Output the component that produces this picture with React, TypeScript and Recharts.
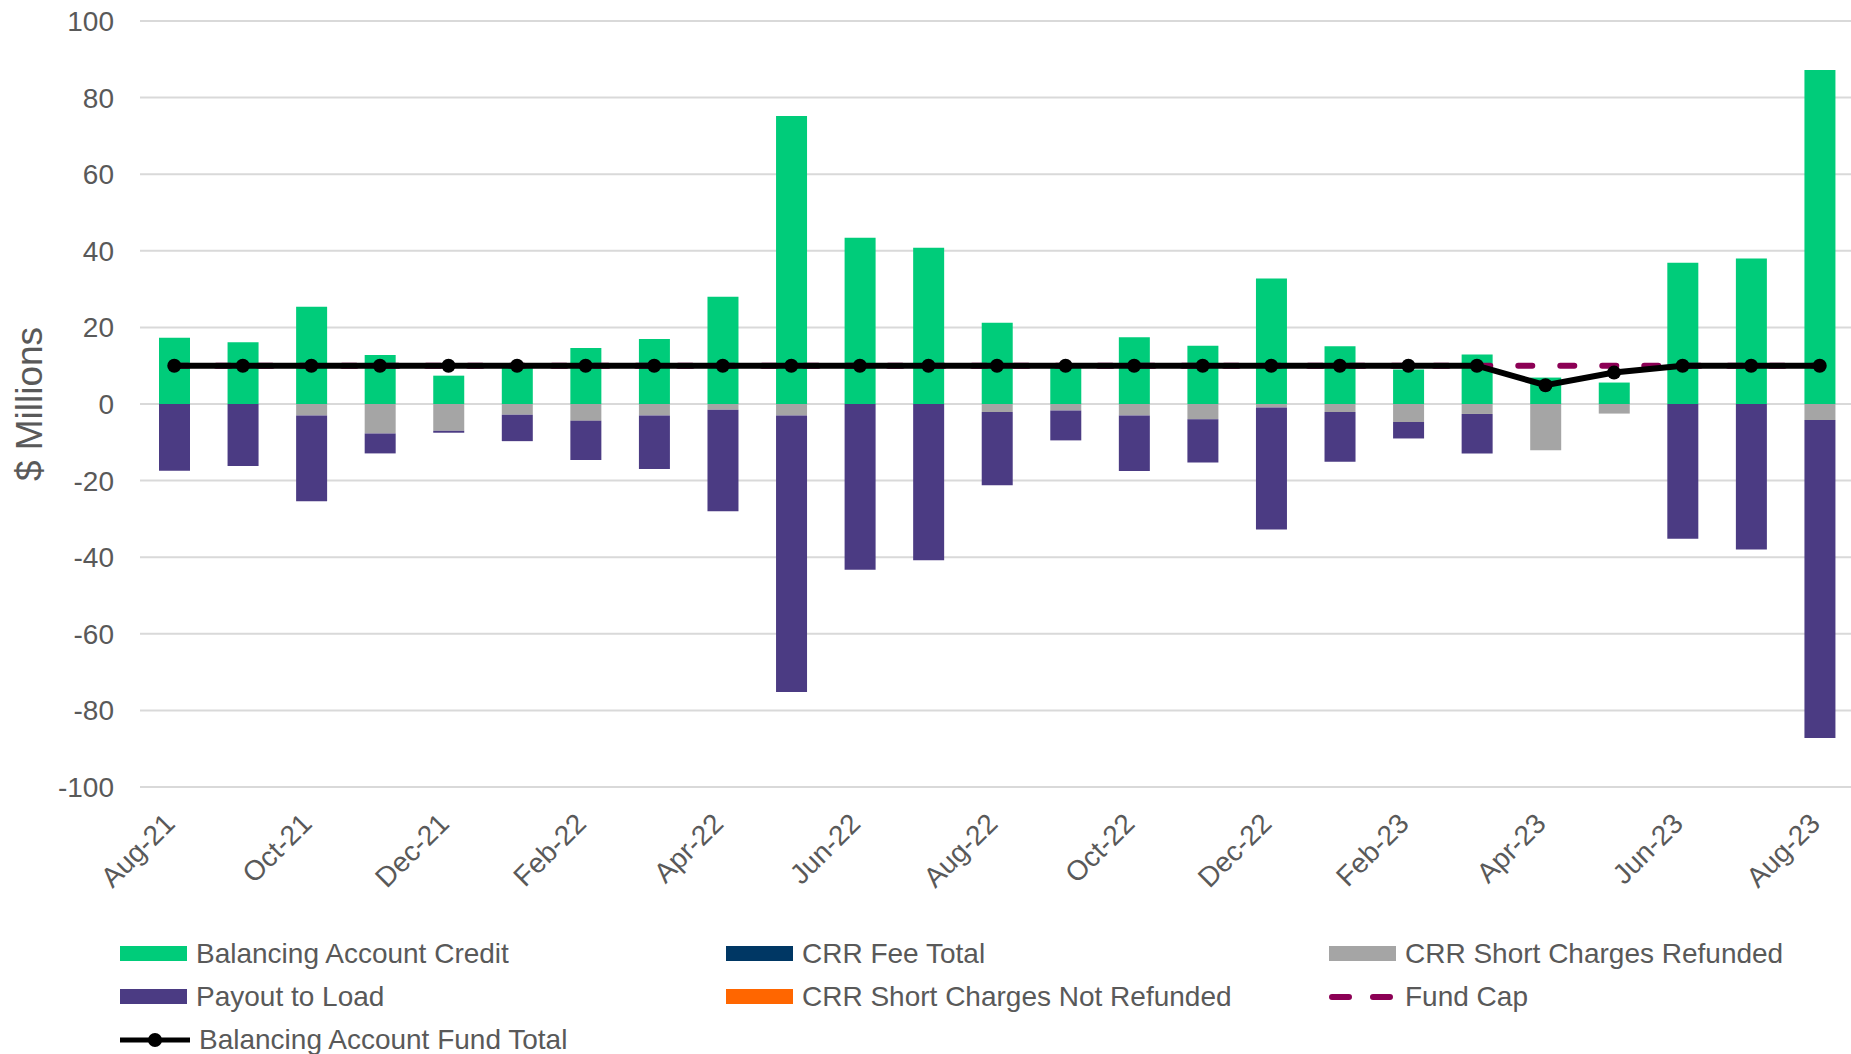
import {
  Bar, CartesianGrid, ComposedChart, Legend, Line, XAxis, YAxis,
} from "recharts";

const months = [
  "Aug-21", "Sep-21", "Oct-21", "Nov-21", "Dec-21", "Jan-22", "Feb-22", "Mar-22",
  "Apr-22", "May-22", "Jun-22", "Jul-22", "Aug-22", "Sep-22", "Oct-22", "Nov-22",
  "Dec-22", "Jan-23", "Feb-23", "Mar-23", "Apr-23", "May-23", "Jun-23", "Jul-23", "Aug-23",
];

const balancingCredit = [
  17.3, 16.1, 25.4, 12.8, 7.4, 9.7, 14.6, 17.0, 28.0, 75.2, 43.4, 40.8, 21.2,
  9.5, 17.4, 15.2, 32.8, 15.1, 9.0, 12.9, 6.9, 5.6, 36.9, 38.0, 87.2,
];
const crrFeeTotal = [
  0, 0, 0, 0, 0, 0, 0, 0, 0, 0, 0, 0, 0, 0, 0, 0, 0, 0, 0, 0, 0, 0, 0, 0, 0,
];
const shortRefunded = [
  0, 0, -3.0, -7.7, -7.0, -2.8, -4.4, -3.0, -1.5, -3.0, 0, 0, -2.1,
  -1.7, -3.0, -4.0, -0.9, -2.1, -4.7, -2.6, -12.1, -2.5, 0, 0, -4.2,
];
const payoutToLoad = [
  -17.4, -16.2, -22.4, -5.2, -0.5, -6.9, -10.2, -14.0, -26.5, -72.2, -43.3, -40.8, -19.1,
  -7.8, -14.5, -11.3, -31.9, -13.0, -4.3, -10.3, 0, 0, -35.2, -38.0, -83.0,
];
const shortNotRefunded = [
  0, 0, 0, 0, 0, 0, 0, 0, 0, 0, 0, 0, 0, 0, 0, 0, 0, 0, 0, 0, 0, 0, 0, 0, 0,
];
const fundCap = [
  10, 10, 10, 10, 10, 10, 10, 10, 10, 10, 10, 10, 10,
  10, 10, 10, 10, 10, 10, 10, 10, 10, 10, 10, 10,
];
const fundTotal = [
  10, 10, 10, 10, 10, 10, 10, 10, 10, 10, 10, 10, 10,
  10, 10, 10, 10, 10, 10, 10, 4.9, 8.2, 10, 10, 10,
];
const yTicks = [-100, -80, -60, -40, -20, 0, 20, 40, 60, 80, 100];

const data = months.map((m, i) => ({
  month: m,
  credit: balancingCredit[i],
  fee: crrFeeTotal[i],
  refunded: shortRefunded[i],
  payout: payoutToLoad[i],
  notRefunded: shortNotRefunded[i],
  cap: fundCap[i],
  total: fundTotal[i],
}));

const FONT = "'Liberation Sans', Arial, sans-serif";
const TEXT = "#595959";

const legendOrder = [
  "Balancing Account Credit", "CRR Fee Total", "CRR Short Charges Refunded",
  "Payout to Load", "CRR Short Charges Not Refunded", "Fund Cap",
  "Balancing Account Fund Total",
];

function XTick({ x, y, payload }: any) {
  const ax = x - 12;
  return (
    <text
      x={ax} y={y} dy={20}
      transform={`rotate(-45 ${ax} ${y})`}
      textAnchor="end" fill={TEXT} fontSize={28} fontFamily={FONT}
    >
      {payload.value}
    </text>
  );
}

function LegendIcon({ name, color }: { name: string; color: string }) {
  if (name === "Fund Cap") {
    return (
      <svg width={67} height={16} style={{ display: "block" }}>
        <line x1={3} x2={64} y1={8} y2={8} stroke={color} strokeWidth={6}
          strokeLinecap="round" strokeDasharray="17 24" />
      </svg>
    );
  }
  if (name === "Balancing Account Fund Total") {
    return (
      <svg width={70} height={16} style={{ display: "block" }}>
        <line x1={0} x2={70} y1={8} y2={8} stroke={color} strokeWidth={5} />
        <circle cx={35} cy={8} r={7} fill={color} />
      </svg>
    );
  }
  return <div style={{ width: 67, height: 15, background: color }} />;
}

function renderLegend(props: any) {
  const items = [...(props.payload || [])].sort(
    (a: any, b: any) => legendOrder.indexOf(a.value) - legendOrder.indexOf(b.value),
  );
  return (
    <div
      style={{
        display: "grid",
        gridTemplateColumns: "606px 603px 500px",
        gridAutoRows: "43px",
        paddingLeft: 120,
        paddingTop: 18,
        fontFamily: FONT,
        fontSize: 28,
        color: TEXT,
      }}
    >
      {items.map((it: any) => (
        <div key={it.value} style={{ display: "flex", alignItems: "center", whiteSpace: "nowrap" }}>
          <LegendIcon name={it.value} color={it.color} />
          <span style={{ marginLeft: 9 }}>{it.value}</span>
        </div>
      ))}
    </div>
  );
}

export default function App() {
  return (
    <div
      style={{
        position: "absolute", left: 0, top: 0, width: 1851, height: 1054,
        overflow: "hidden", background: "#ffffff",
      }}
    >
      <ComposedChart
        width={1854}
        height={1054}
        data={data}
        stackOffset="sign"
        margin={{ top: 21, right: 0, left: 0, bottom: 0 }}
      >
        <CartesianGrid vertical={false} stroke="#D9D9D9" strokeWidth={2} />
        <XAxis
          dataKey="month"
          interval={1}
          axisLine={false}
          tickLine={false}
          tickSize={0}
          tickMargin={24}
          height={127}
          tick={<XTick />}
        />
        <YAxis
          width={140}
          domain={[-100, 100]}
          ticks={yTicks}
          axisLine={false}
          tickLine={false}
          tickSize={0}
          tickMargin={26}
          tick={{ fontSize: 28, fill: TEXT, fontFamily: FONT }}
          label={{
            content: () => (
              <text
                transform="translate(42 404) rotate(-90)"
                textAnchor="middle" fontSize={37} fill={TEXT} fontFamily={FONT}
              >
                $ Millions
              </text>
            ),
          }}
        />
        <Legend verticalAlign="bottom" height={140} content={renderLegend} />
        <Bar dataKey="credit" name="Balancing Account Credit" stackId="a" fill="#00CC7A" barSize={31} isAnimationActive={false} />
        <Bar dataKey="fee" name="CRR Fee Total" stackId="a" fill="#003764" barSize={31} isAnimationActive={false} />
        <Bar dataKey="refunded" name="CRR Short Charges Refunded" stackId="a" fill="#A5A5A5" barSize={31} isAnimationActive={false} />
        <Bar dataKey="payout" name="Payout to Load" stackId="a" fill="#4B3B83" barSize={31} isAnimationActive={false} />
        <Bar dataKey="notRefunded" name="CRR Short Charges Not Refunded" stackId="a" fill="#FF6600" barSize={31} isAnimationActive={false} />
        <Line
          dataKey="cap" name="Fund Cap" stroke="#8C0055" strokeWidth={6}
          strokeDasharray="14 28" strokeLinecap="round" dot={false} activeDot={false}
          isAnimationActive={false}
        />
        <Line
          dataKey="total" name="Balancing Account Fund Total" stroke="#000000" strokeWidth={6}
          dot={{ r: 7, fill: "#000000", stroke: "#000000", strokeWidth: 0 }} activeDot={false}
          isAnimationActive={false}
        />
      </ComposedChart>
    </div>
  );
}
